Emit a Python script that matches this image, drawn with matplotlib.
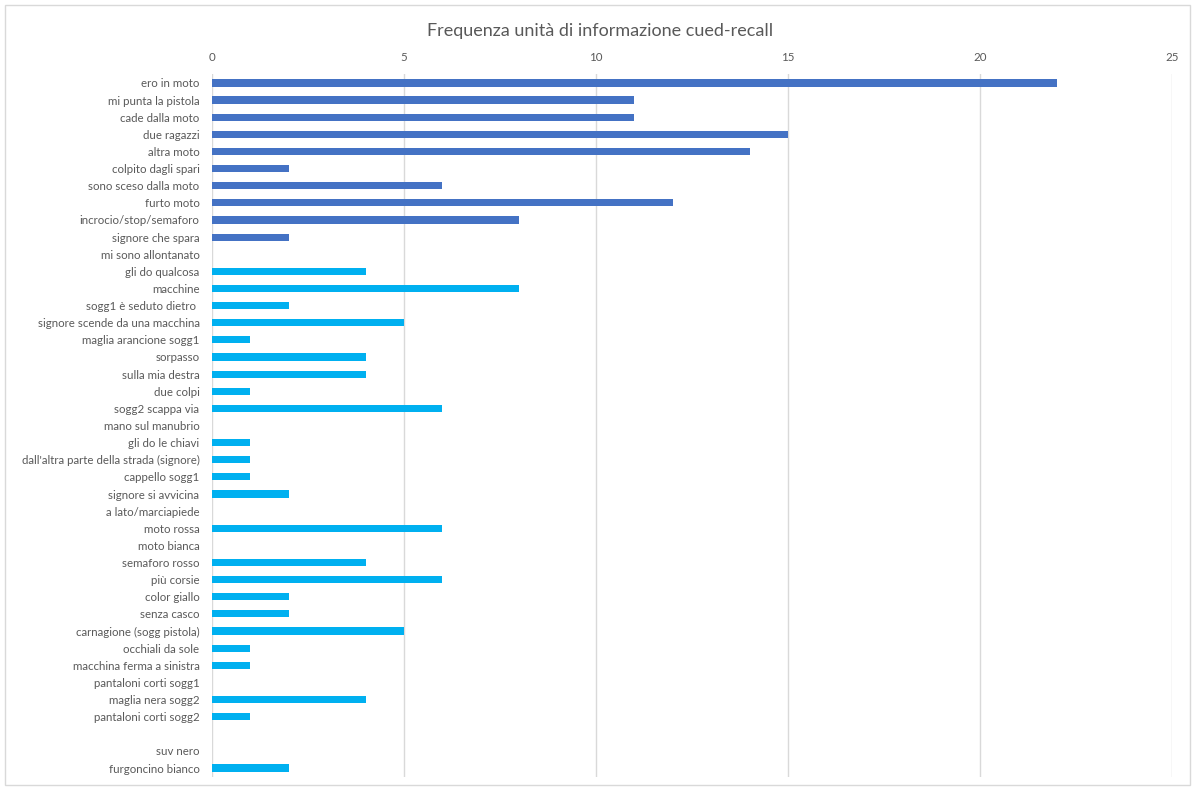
import matplotlib
matplotlib.use("Agg")
import matplotlib.pyplot as plt
from matplotlib.patches import Rectangle

plt.rcParams['font.family'] = ['Lato', 'DejaVu Sans']

categories_a = ["ero in moto", "mi punta la pistola", "cade dalla moto", "due ragazzi",
                "altra moto", "colpito dagli spari", "sono sceso dalla moto", "furto moto",
                "incrocio/stop/semaforo", "signore che spara", "mi sono allontanato"]
values_a = [22, 11, 11, 15, 14, 2, 6, 12, 8, 2, 0]

categories_b = ["gli do qualcosa", "macchine", "sogg1 è seduto dietro ",
                "signore scende da una macchina", "maglia arancione sogg1", "sorpasso",
                "sulla mia destra", "due colpi", "sogg2 scappa via", "mano sul manubrio",
                "gli do le chiavi", "dall'altra parte della strada (signore)", "cappello sogg1",
                "signore si avvicina", "a lato/marciapiede", "moto rossa", "moto bianca",
                "semaforo rosso", "più corsie", "color giallo", "senza casco",
                "carnagione (sogg pistola)", "occhiali da sole", "macchina ferma a sinistra",
                "pantaloni corti sogg1", "maglia nera sogg2", "pantaloni corti sogg2",
                "", "suv nero", "furgoncino bianco"]
values_b = [4, 8, 2, 5, 1, 4, 4, 1, 6, 0, 1, 1, 1, 2, 0, 6, 0, 4, 6, 2, 2, 5, 1, 1,
            0, 4, 1, 0, 0, 2]

xticks = [0, 5, 10, 15, 20, 25]
title = "Frequenza unità di informazione cued-recall"

W, H = 1193, 787
fig = plt.figure(figsize=(W / 100, H / 100), dpi=100)

# chart border
fig.patches.append(Rectangle((5 / W, 2 / H), 1185 / W, 780 / H, transform=fig.transFigure,
                             fill=False, edgecolor="#D9D9D9", linewidth=1.0))

ax = fig.add_axes([212 / W, 1 - 776.6 / H, 960 / W, (776.6 - 74.4) / H])

n_a = len(categories_a)
pos_a = list(range(n_a))
pos_b = list(range(n_a, n_a + len(categories_b)))
bh = 0.42
ax.barh(pos_a, values_a, height=bh, color="#4472C4", zorder=3)
ax.barh(pos_b, values_b, height=bh, color="#00B0F0", zorder=3)

ax.set_ylim(n_a + len(categories_b) - 0.5, -0.5)
ax.set_xlim(0, 25)
ax.set_yticks(pos_a + pos_b)
ax.set_yticklabels(categories_a + categories_b)
ax.set_xticks(xticks)
ax.set_xticklabels([str(t) for t in xticks])
ax.xaxis.tick_top()
ax.tick_params(axis="both", length=0, labelsize=8.3, colors="#595959")
ax.tick_params(axis="y", pad=9)
ax.tick_params(axis="x", pad=8)
ax.grid(axis="x", color="#D9D9D9", linewidth=1.0, zorder=0)
for s in ax.spines.values():
    s.set_visible(False)

fig.text(600 / W, 1 - 31 / H, title, ha="center", va="center", fontsize=13, color="#595959")

fig.savefig("out.png", dpi=100)
